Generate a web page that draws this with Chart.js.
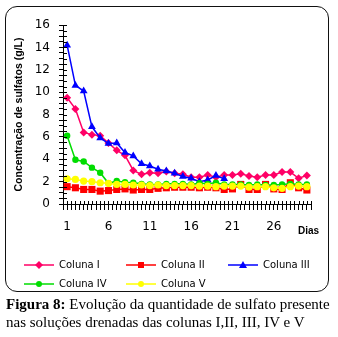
<!DOCTYPE html>
<html>
<head>
<meta charset="utf-8">
<script src="https://cdn.jsdelivr.net/npm/chart.js@4/dist/chart.umd.min.js"></script>
<style>
  body { margin: 0; background: #fff; }
  #page { position: relative; width: 338px; height: 337px; overflow: hidden; }
  #frame { position: absolute; left: 5px; top: 6px; width: 322px; height: 284px; border: 1.5px solid #111; border-radius: 12px; }
  #chart { position: absolute; left: 0; top: 0; }
  #dias { position: absolute; left: 298px; top: 225px; font: bold 10px "Liberation Sans", sans-serif; color: #000; }
  .leg { position: absolute; display: flex; align-items: center; font: 10px "DejaVu Sans", sans-serif; color: #000; white-space: nowrap; }
  .leg svg { margin-right: 5px; }
  #caption { position: absolute; left: 6px; top: 295px; font: 15px "Liberation Serif", serif; line-height: 18px; color: #000; white-space: nowrap; }
</style>
</head>
<body>
<div id="page">
  <div id="frame"></div>
  <canvas id="chart" width="338" height="337"></canvas>
  <span id="dias">Dias</span>
  <div id="legend"></div>
  <div id="caption"><b>Figura 8:</b> Evolução da quantidade de sulfato presente<br>nas soluções drenadas das colunas I,II, III, IV e V</div>
</div>
<script>
const days = [1, 2, 3, 4, 5, 6, 7, 8, 9, 10, 11, 12, 13, 14, 15, 16, 17, 18, 19, 20, 21, 22, 23, 24, 25, 26, 27, 28, 29, 30];
const dayLabels = [1, 6, 11, 16, 21, 26];
const yLabels = [0, 2, 4, 6, 8, 10, 12, 14, 16];

const colunaI = [9.5, 8.5, 6.4, 6.2, 6.1, 5.45, 4.8, 4.35, 3.0, 2.65, 2.8, 2.75, 2.9, 2.75, 2.65, 2.4, 2.4, 2.6, 2.4, 2.6, 2.6, 2.7, 2.5, 2.4, 2.6, 2.6, 2.85, 2.85, 2.3, 2.55];
const colunaII = [1.55, 1.45, 1.3, 1.3, 1.15, 1.2, 1.3, 1.35, 1.25, 1.3, 1.3, 1.4, 1.45, 1.5, 1.5, 1.5, 1.45, 1.5, 1.45, 1.3, 1.35, 1.75, 1.3, 1.3, 1.75, 1.35, 1.3, 1.9, 1.45, 1.25];
const colunaIII = [14.2, 10.6, 10.1, 6.9, 5.9, 5.4, 5.45, 4.6, 4.3, 3.6, 3.4, 3.1, 2.95, 2.75, 2.45, 2.3, 2.0, 2.15, 2.55, 2.25];
const colunaIV = [6.1, 3.95, 3.8, 3.25, 2.8, 1.85, 2.05, 1.95, 1.9, 1.8, 1.75, 1.75, 1.8, 1.8, 1.8, 1.75, 1.85, 1.8, 1.9, 1.75, 1.75, 1.75, 1.7, 1.75, 1.7, 1.7, 1.75, 1.8, 1.75, 1.75];
const colunaV = [2.25, 2.2, 2.05, 2.0, 1.9, 1.85, 1.75, 1.75, 1.7, 1.7, 1.65, 1.7, 1.65, 1.65, 1.65, 1.65, 1.6, 1.6, 1.55, 1.6, 1.6, 1.6, 1.5, 1.55, 1.55, 1.45, 1.4, 1.55, 1.6, 1.55];

const seriesNames = ['Coluna I', 'Coluna II', 'Coluna III', 'Coluna IV', 'Coluna V'];
const seriesValues = [colunaI, colunaII, colunaIII, colunaIV, colunaV];
const seriesColors = ['#FF0066', '#FF0000', '#0000FF', '#00DD00', '#FFFF00'];
const seriesMarkers = ['rectRot', 'rect', 'triangle', 'circle', 'circle'];
const markerSizes = [4, 5, 4.5, 3.2, 3.6];
const drawOrder = [4, 3, 2, 1, 0];

function toPoints(values) {
  return values.map((v, i) => ({ x: days[i], y: v }));
}

const datasets = seriesNames.map((name, i) => ({
  label: name,
  data: toPoints(seriesValues[i]),
  borderColor: seriesColors[i],
  backgroundColor: seriesColors[i],
  borderWidth: 1.5,
  pointStyle: seriesMarkers[i],
  pointRadius: markerSizes[i],
  pointBorderWidth: 0,
  order: drawOrder[i],
  tension: 0
}));

// tick marks that cross the axis line (Excel style)
const crossTicks = {
  id: 'crossTicks',
  afterDraw(chart) {
    const ctx = chart.ctx;
    const xs = chart.scales.x, ys = chart.scales.y;
    ctx.save();
    ctx.strokeStyle = '#000';
    ctx.lineWidth = 1;
    ctx.beginPath();
    ys.ticks.forEach(t => {
      const py = Math.round(ys.getPixelForValue(t.value)) + 0.5;
      ctx.moveTo(xs.left, py);
      ctx.lineTo(xs.left + 4, py);
    });
    xs.ticks.forEach(t => {
      const px = Math.round(xs.getPixelForValue(t.value)) + 0.5;
      ctx.moveTo(px, ys.bottom);
      ctx.lineTo(px, ys.bottom - 3);
    });
    ctx.stroke();
    ctx.restore();
  }
};

new Chart(document.getElementById('chart'), {
  type: 'line',
  data: { datasets },
  options: {
    responsive: false,
    animation: false,
    layout: { padding: { left: 9, top: 25, right: 27, bottom: 103 } },
    plugins: { legend: { display: false }, tooltip: { enabled: false } },
    scales: {
      x: {
        type: 'linear',
        min: 0.5,
        max: 30.5,
        afterFit(scale) { scale.height = 30; },
        grid: { drawOnChartArea: false, tickLength: 6, color: '#000' },
        border: { color: '#000', width: 1 },
        ticks: {
          stepSize: 0.5,
          autoSkip: false,
          maxRotation: 0,
          padding: 10,
          color: '#000',
          font: { family: 'DejaVu Sans', size: 12 },
          callback: v => dayLabels.includes(v) ? String(v) : ''
        }
      },
      y: {
        min: 0,
        max: 16,
        afterFit(scale) { scale.width = 54; },
        grid: { drawOnChartArea: false, tickLength: 4, color: '#000' },
        border: { color: '#000', width: 1 },
        ticks: {
          stepSize: 0.5,
          autoSkip: false,
          padding: 9,
          color: '#000',
          font: { family: 'DejaVu Sans', size: 12 },
          callback: v => yLabels.includes(v) ? String(v) : ''
        },
        title: {
          display: true,
          text: 'Concentração de sulfatos (g/L)',
          color: '#000',
          padding: { top: 4, bottom: 0 },
          font: { family: 'Liberation Sans', size: 10.5, weight: 'bold' }
        }
      }
    }
  },
  plugins: [crossTicks]
});

// legend, laid out in three columns like the original
const legendCols = [24, 126, 228];
const legendRows = [265, 284];
const legend = document.getElementById('legend');
seriesNames.forEach((name, i) => {
  const c = seriesColors[i];
  let mark;
  if (seriesMarkers[i] === 'rect') mark = `<rect x="12" y="2" width="6" height="6" fill="${c}"/>`;
  else if (seriesMarkers[i] === 'triangle') mark = `<polygon points="15,1 19,8 11,8" fill="${c}"/>`;
  else if (seriesMarkers[i] === 'rectRot') mark = `<polygon points="15,1 19,5 15,9 11,5" fill="${c}"/>`;
  else mark = `<circle cx="15" cy="5" r="3" fill="${c}"/>`;
  const item = document.createElement('div');
  item.className = 'leg';
  item.style.left = legendCols[i % 3] + 'px';
  item.style.top = (legendRows[Math.floor(i / 3)] - 6) + 'px';
  item.innerHTML = `<svg width="30" height="10"><line x1="0" y1="5" x2="30" y2="5" stroke="${c}" stroke-width="1.5"/>${mark}</svg><span>${name}</span>`;
  legend.appendChild(item);
});
</script>
</body>
</html>
